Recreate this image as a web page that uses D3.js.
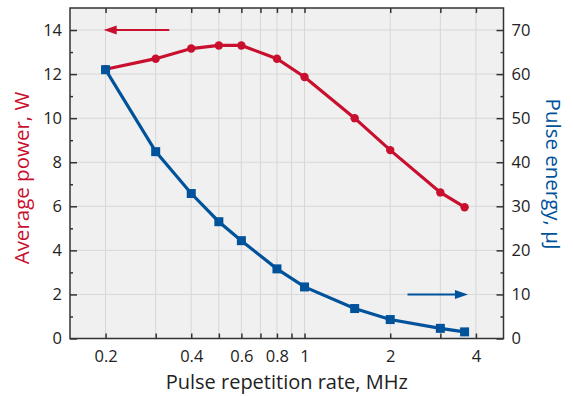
<!DOCTYPE html>
<html><head><meta charset="utf-8">
<script src="https://cdn.jsdelivr.net/npm/d3@7"></script>
<style>body{margin:0;background:#fff;} text{font-family:"Open Sans","Noto Sans",sans-serif;}</style>
</head><body><svg id="c" width="573" height="396"></svg>
<script>
const freq = [0.2, 0.3, 0.4, 0.5, 0.6, 0.8, 1.0, 1.5, 2.0, 3.0, 3.65];
const power = [12.22, 12.7, 13.16, 13.3, 13.3, 12.7, 11.87, 10.0, 8.55, 6.63, 5.96];
const energy = [61.0, 42.4, 32.9, 26.5, 22.2, 15.8, 11.7, 6.8, 4.3, 2.3, 1.5];
const xTickLabels = [0.2, 0.4, 0.6, 0.8, 1, 2, 4];
const xGrid = [0.2, 0.3, 0.4, 0.5, 0.6, 0.7, 0.8, 0.9, 1, 2, 3, 4];
const yLeftTicks = [0, 2, 4, 6, 8, 10, 12, 14];
const yRightTicks = [0, 10, 20, 30, 40, 50, 60, 70];

const red = "#c8102e", blue = "#00539b";
const m = {l: 70, r: 70, t: 8, b: 58};
const W = 573, H = 396;
const svg = d3.select("#c");
const x = d3.scaleLog().domain([0.15, 5]).range([m.l, W - m.r + 0.5]);
const yL = d3.scaleLinear().domain([0, 15]).range([338.5, m.t]);
const yR = d3.scaleLinear().domain([0, 75]).range([338.5, m.t]);
const x0 = m.l, x1 = x.range()[1], y0 = yL.range()[0], y1 = m.t;

svg.append("rect").attr("x", x0).attr("y", y1).attr("width", x1 - x0).attr("height", y0 - y1).attr("fill", "#f0f0f0");
const g = svg.append("g");
g.selectAll(".vg").data(xGrid).join("line").attr("x1", d => x(d)).attr("x2", d => x(d))
  .attr("y1", y1).attr("y2", y0).attr("stroke", "#d7d7d7").attr("stroke-width", 1);
g.selectAll(".hg").data(yLeftTicks.filter(d => d > 0)).join("line").attr("x1", x0).attr("x2", x1)
  .attr("y1", d => yL(d)).attr("y2", d => yL(d)).attr("stroke", "#d7d7d7").attr("stroke-width", 1);

// axes
const fmt = d => (d < 1 ? d3.format(".1f")(d) : d3.format("d")(d));
const axB = d3.axisBottom(x).tickValues(xGrid).tickSize(-5).tickPadding(12)
  .tickFormat(d => xTickLabels.includes(d) ? fmt(d) : "");
const axT = d3.axisTop(x).tickValues(xGrid).tickSize(-5).tickFormat("");
const minorL = d3.range(1, 15, 2);
const axL = d3.axisLeft(yL).tickValues(yLeftTicks).tickSize(-7).tickPadding(8);
const axLm = d3.axisLeft(yL).tickValues(minorL).tickSize(-3).tickFormat("");
const axR = d3.axisRight(yR).tickValues(yRightTicks).tickSize(-7).tickPadding(8);
const axRm = d3.axisRight(yR).tickValues(d3.range(5, 75, 10)).tickSize(-3).tickFormat("");

function style(sel) {
  sel.select(".domain").attr("stroke", "#333").attr("stroke-width", 1.5);
  sel.selectAll(".tick line").attr("stroke", "#333").attr("stroke-width", 1.5);
  sel.selectAll(".tick text").attr("fill", "#222").style("font-size", "16.5px")
    .style("font-family", '"Open Sans","Noto Sans",sans-serif');
}
svg.append("g").attr("transform", `translate(0,${y0})`).call(axB).call(style);
svg.append("g").attr("transform", `translate(0,${y1})`).call(axT).call(style);
svg.append("g").attr("transform", `translate(${x0},0)`).call(axL).call(style);
svg.append("g").attr("transform", `translate(${x0},0)`).call(axLm).call(style);
svg.append("g").attr("transform", `translate(${x1},0)`).call(axR).call(style);
svg.append("g").attr("transform", `translate(${x1},0)`).call(axRm).call(style);
svg.selectAll(".domain").attr("d", null);
svg.append("rect").attr("x", x0).attr("y", y1).attr("width", x1 - x0).attr("height", y0 - y1)
  .attr("fill", "none").attr("stroke", "#333").attr("stroke-width", 1.5);

// series
const dataP = freq.map((f, i) => [f, power[i]]);
const dataE = freq.map((f, i) => [f, energy[i]]);
svg.append("path").datum(dataE).attr("fill", "none").attr("stroke", blue).attr("stroke-width", 3.2)
  .attr("d", d3.line().x(d => x(d[0])).y(d => yR(d[1])));
svg.append("path").datum(dataP).attr("fill", "none").attr("stroke", red).attr("stroke-width", 3.2)
  .attr("d", d3.line().x(d => x(d[0])).y(d => yL(d[1])));
svg.selectAll(".pc").data(dataP).join("circle").attr("cx", d => x(d[0])).attr("cy", d => yL(d[1]))
  .attr("r", 4.2).attr("fill", red);
svg.selectAll(".es").data(dataE).join("rect").attr("x", d => x(d[0]) - 4.5).attr("y", d => yR(d[1]) - 4.5)
  .attr("width", 9).attr("height", 9).attr("fill", blue);

// arrows
function arrow(xa, xb, yy, col) {
  const dir = Math.sign(xb - xa);
  svg.append("line").attr("x1", xa).attr("x2", xb - dir * 8).attr("y1", yy).attr("y2", yy)
    .attr("stroke", col).attr("stroke-width", 2);
  svg.append("path").attr("d", `M${xb},${yy} L${xb - dir * 13},${yy - 4.5} L${xb - dir * 13},${yy + 4.5} Z`)
    .attr("fill", col);
}
arrow(x(0.335), x(0.197), yL(14), red);
arrow(x(2.3), x(3.75), yR(10), blue);

// titles
svg.append("text").attr("x", (x0 + x1) / 2).attr("y", 389).attr("text-anchor", "middle")
  .style("font-size", "20px").attr("fill", "#222").text("Pulse repetition rate, MHz");
svg.append("text").attr("transform", `translate(29,178) rotate(-90)`).attr("text-anchor", "middle")
  .style("font-size", "20.5px").attr("fill", red).text("Average power, W");
svg.append("text").attr("transform", `translate(546,174) rotate(90)`).attr("text-anchor", "middle")
  .style("font-size", "20.5px").attr("fill", blue).text("Pulse energy, μJ");
</script></body></html>
